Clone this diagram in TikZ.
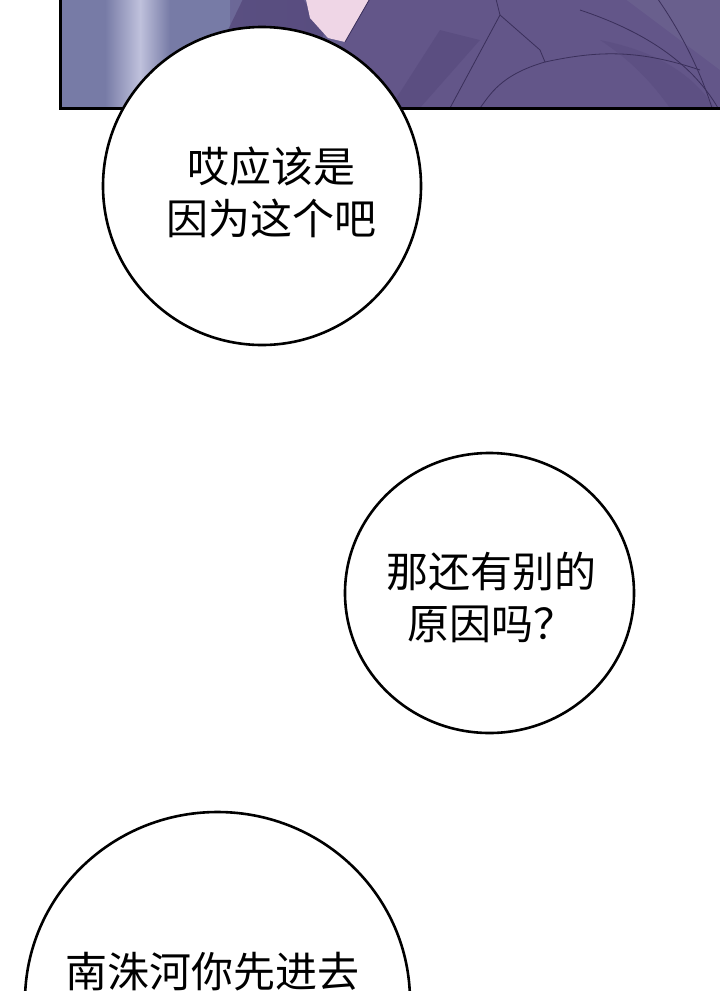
\documentclass[tikz,border=0pt]{standalone}
\usepackage{fontspec}
\newfontfamily\cjk{Noto Sans CJK SC}
\usetikzlibrary{shapes.geometric}
\definecolor{panelL}{HTML}{777BA6}
\definecolor{panelM}{HTML}{62578A}
\definecolor{panelR}{HTML}{6C6390}
\definecolor{strip}{HTML}{BFC1DC}
\definecolor{skin}{HTML}{EFD6E6}
\definecolor{coat}{HTML}{635689}
\definecolor{coatdark}{HTML}{54477A}
\definecolor{inkline}{HTML}{3A2F5A}
\tikzset{
  bubble/.style={ellipse, draw=black, fill=white, line width=2.6pt, inner sep=0pt},
  speech/.style={font=\cjk\fontsize{42pt}{52pt}\selectfont, align=center, inner sep=0pt, text=black},
  sketchline/.style={draw=inkline, line width=0.8pt}
}
\begin{document}
\begin{tikzpicture}[x=1pt,y=-1pt]
\useasboundingbox (0,0) rectangle (720,991);
\fill[white] (0,0) rectangle (720,991);
% top panel
\begin{scope}
\clip (60,-5) rectangle (725,108);
\shade[left color=panelL, right color=panelR, middle color=panelM] (60,-5) rectangle (725,108);
\fill[panelL] (60,-5) rectangle (230,108);
\shade[left color=panelL, right color=strip] (105,-5) rectangle (140,108);
\shade[left color=strip, right color=panelL] (140,-5) rectangle (170,108);
\fill[coatdark, opacity=0.75] (245,-5) -- (300,-5) -- (325,30) -- (300,108) -- (190,108) -- cycle;
\fill[skin] (305,-5) -- (372,-5) -- (358,20) -- (345,42) -- (328,38) -- (310,18) -- cycle;
\fill[coat] (372,-5) -- (720,-5) -- (720,108) -- (300,108) -- (345,42) -- cycle;
\fill[panelR, opacity=0.7] (620,-5) -- (720,-5) -- (720,70) -- cycle;
\fill[coatdark, opacity=0.5] (440,30) -- (480,40) -- (420,108) -- (390,108) -- cycle;
\fill[coatdark, opacity=0.4] (600,40) .. controls (650,50) and (690,70) .. (715,108) -- (670,108) .. controls (650,80) and (630,60) .. (600,40) -- cycle;
\draw[sketchline] (372,-5) -- (345,42);
\draw[sketchline] (500,15) -- (540,50) -- (545,62);
\draw[sketchline] (495,-5) -- (500,15) -- (450,108);
\draw[sketchline] (545,62) .. controls (600,50) and (640,50) .. (700,70);
\draw[sketchline] (545,62) .. controls (500,75) and (490,95) .. (480,108);
\draw[sketchline] (580,10) .. controls (640,30) and (690,60) .. (718,108);
\draw[sketchline] (655,-5) .. controls (680,30) and (700,70) .. (712,108);
\end{scope}
\draw[line width=3pt] (60,-5) -- (60,108) -- (725,108);
% bubbles
\node[bubble, minimum width=318pt, minimum height=318pt] (b1) at (262,186) {};
\node[speech] (t1) at (271,192) {哎应该是\\因为这个吧};
\node[bubble, minimum width=289pt, minimum height=280pt] (b2) at (489.5,593) {};
\node[speech] (t2) at (491,597) {那还有别的\\原因吗？};
\node[bubble, minimum width=385pt, minimum height=378pt] (b3) at (217.5,1001) {};
\node[speech] (t3) at (212,972) {南洙河你先进去};
\end{tikzpicture}
\end{document}
